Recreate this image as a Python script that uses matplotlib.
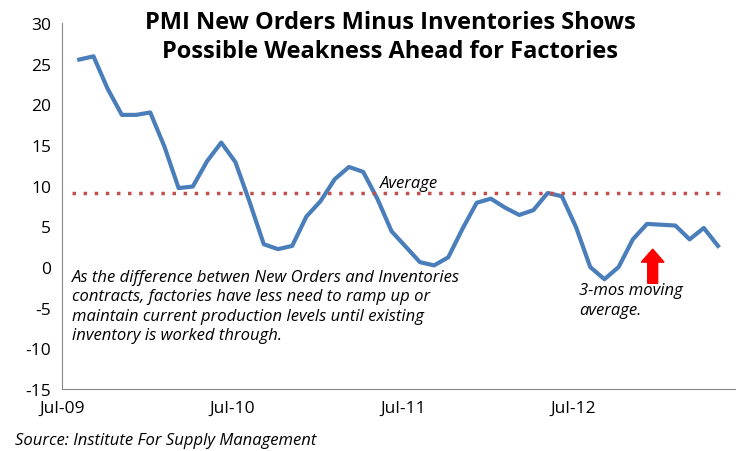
import matplotlib.pyplot as plt

values = [25.5, 25.9, 21.9, 18.7, 18.7, 19.0, 14.8, 9.7, 9.9, 13.0, 15.3, 12.9,
          8.0, 2.8, 2.2, 2.6, 6.2, 8.1, 10.8, 12.3, 11.7, 8.4, 4.4, 2.5,
          0.6, 0.2, 1.2, 4.7, 7.9, 8.4, 7.3, 6.4, 7.0, 9.1, 8.7, 4.9,
          0.0, -1.5, 0.0, 3.4, 5.3, 5.2, 5.1, 3.4, 4.8, 2.6]
average = 9.1
tick_labels = ['Jul-09', 'Jul-10', 'Jul-11', 'Jul-12']
tick_pos = [-1.2, 10.8, 22.8, 34.8]

plt.rcParams['font.family'] = ['Open Sans', 'DejaVu Sans']
plt.rcParams['axes.unicode_minus'] = False
fig = plt.figure(figsize=(7.5, 4.52), dpi=100)
ax = fig.add_axes([0.083, 0.137, 0.897, 0.81])

x = list(range(len(values)))
ax.plot(x, values, color='#4a7ebb', lw=3)
ax.plot([-0.5, len(values) - 0.5], [average, average], ls=(0, (1, 2.2)), color='#c0504d', lw=2.5)

ax.set_xlim(-1.2, 46.2)
ax.set_ylim(-15, 30)
ax.set_yticks(range(-15, 31, 5))
ax.set_xticks(tick_pos)
ax.set_xticklabels(tick_labels)
ax.tick_params(labelsize=12.5, length=0, pad=8)
for s in ['top', 'right']:
    ax.spines[s].set_visible(False)
for s in ['left', 'bottom']:
    ax.spines[s].set_color('#888888')

fig.text(0.52, 0.975, 'PMI New Orders Minus Inventories Shows\nPossible Weakness Ahead for Factories',
         ha='center', va='top', fontsize=17, fontweight='bold', linespacing=1.25)
ax.text(21.2, 9.8, 'Average', fontsize=12, style='italic')
ax.text(-0.5, -0.2, 'As the difference betwen New Orders and Inventories\n'
        'contracts, factories have less need to ramp up or\n'
        'maintain current production levels until existing\n'
        'inventory is worked through.', fontsize=12, style='italic', va='top', linespacing=1.3)
ax.text(35.2, -1.9, '3-mos moving\naverage.', fontsize=12, style='italic', va='top', linespacing=1.3)
ax.arrow(40.4, -2.0, 0, 2.6, width=0.7, head_width=1.6, head_length=1.6,
         color='red', length_includes_head=False)
fig.text(0.02, 0.015, 'Source: Institute For Supply Management', fontsize=12, style='italic')

fig.savefig('out.png')
